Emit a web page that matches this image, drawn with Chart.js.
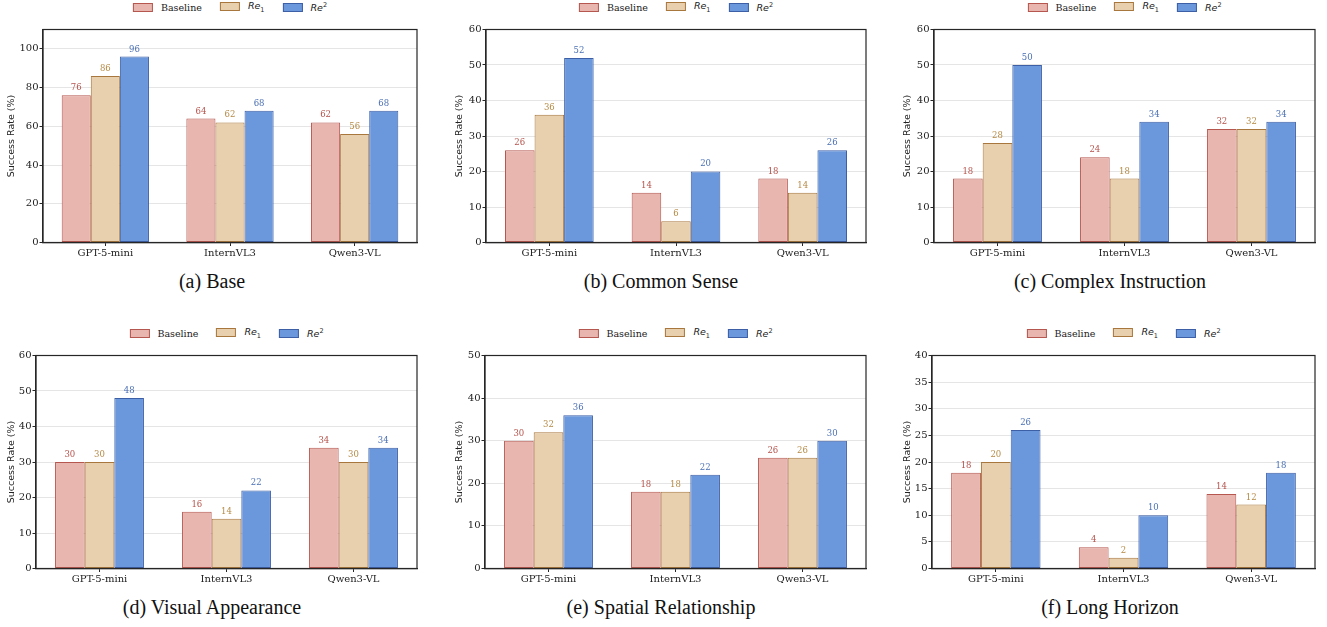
<!DOCTYPE html>
<html>
<head>
<meta charset="utf-8">
<script src="https://cdn.jsdelivr.net/npm/chart.js@4.4.1/dist/chart.umd.min.js"></script>
<style>
  body { margin: 0; background: #fff; width: 1327px; height: 627px; position: relative; overflow: hidden; }
  canvas.panel { position: absolute; }
  .legend { position: absolute; transform: translateX(-50%); display: flex; align-items: center; white-space: nowrap;
            font-family: 'DejaVu Serif', serif; font-size: 9.5px; color: #222; height: 14px; }
  .legend .item { display: flex; align-items: center; margin: 0 9px; }
  .legend .sw { width: 18px; height: 7px; margin-right: 8px; }
  .legend .m { font-family: 'DejaVu Sans', sans-serif; font-style: italic; font-size: 9.5px; }
  .legend sub, .legend sup { font-style: normal; font-size: 6.5px; }
  .caption { position: absolute; transform: translateX(-50%); font-family: 'Liberation Serif', 'Times New Roman', serif;
             font-size: 20px; color: #111; white-space: nowrap; }
</style>
</head>
<body>
<script>
'use strict';

// data
const categories = ['GPT-5-mini', 'InternVL3', 'Qwen3-VL'];
const panelTitles = ['(a) Base', '(b) Common Sense', '(c) Complex Instruction',
  '(d) Visual Appearance', '(e) Spatial Relationship', '(f) Long Horizon'];

const baselineSeries = [[76, 64, 62], [26, 14, 18], [18, 24, 32], [30, 16, 34], [30, 18, 26], [18, 4, 14]];
const re1Series = [[86, 62, 56], [36, 6, 14], [28, 18, 32], [30, 14, 30], [32, 18, 26], [20, 2, 12]];
const re2Series = [[96, 68, 68], [52, 20, 26], [50, 34, 34], [48, 22, 34], [36, 22, 30], [26, 10, 18]];

const yMaxes = [110, 60, 60, 60, 50, 40];
const yTickLists = [
  [0, 20, 40, 60, 80, 100],
  [0, 10, 20, 30, 40, 50, 60],
  [0, 10, 20, 30, 40, 50, 60],
  [0, 10, 20, 30, 40, 50, 60],
  [0, 10, 20, 30, 40, 50],
  [0, 5, 10, 15, 20, 25, 30, 35, 40]
];

// series styles
const fills = ['#e8b6ae', '#e8cfae', '#6b97dc'];
const edges = ['#b5564f', '#a8773d', '#3d5fa6'];
const labelColors = ['#b5524b', '#b58a46', '#4a6fb3'];

// layout of each panel (page pixels)
const colLeft = [0, 448, 896];
const colCenter = [212, 661, 1110];
const rowTop = [0, 326];
const areaLeft = [43, 486, 934, 36, 485, 932];
const areaRight = [417, 866, 1315, 417, 866, 1315];
const canvasW = 427;
const canvasH = 250;

// draws the value above each bar
const valueLabels = {
  id: 'valueLabels',
  afterDatasetsDraw(chart) {
    const ctx = chart.ctx;
    ctx.save();
    ctx.font = '8.5px "DejaVu Serif", serif';
    ctx.textAlign = 'center';
    ctx.textBaseline = 'bottom';
    chart.data.datasets.forEach((ds, i) => {
      const meta = chart.getDatasetMeta(i);
      ctx.fillStyle = labelColors[i];
      meta.data.forEach((bar, j) => {
        ctx.fillText(String(ds.data[j]), bar.x, bar.y - 3);
      });
    });
    ctx.restore();
  }
};

// full box around the plot area
const frame = {
  id: 'frame',
  afterDraw(chart) {
    const a = chart.chartArea;
    const ctx = chart.ctx;
    ctx.save();
    ctx.strokeStyle = '#262626';
    ctx.lineWidth = 1.2;
    ctx.strokeRect(a.left, a.top, a.right - a.left, a.bottom - a.top);
    ctx.restore();
  }
};

function legendHtml() {
  const names = ['Baseline', '<span class="m">Re<sub>1</sub></span>', '<span class="m">Re<sup>2</sup></span>'];
  return names.map((n, i) =>
    `<div class="item"><div class="sw" style="background:${fills[i]};border:1px solid ${edges[i]}"></div>${n}</div>`
  ).join('');
}

function makePanel(p) {
  const col = p % 3;
  const row = Math.floor(p / 3);
  const top = rowTop[row];
  const cLeft = colLeft[col];
  const cTop = top + 18;

  const canvas = document.createElement('canvas');
  canvas.className = 'panel';
  canvas.style.left = cLeft + 'px';
  canvas.style.top = cTop + 'px';
  canvas.style.width = canvasW + 'px';
  canvas.style.height = canvasH + 'px';
  document.body.appendChild(canvas);

  const legend = document.createElement('div');
  legend.className = 'legend';
  legend.style.left = ((areaLeft[p] + areaRight[p]) / 2) + 'px';
  legend.style.top = (top + 0) + 'px';
  legend.innerHTML = legendHtml();
  document.body.appendChild(legend);

  const cap = document.createElement('div');
  cap.className = 'caption';
  cap.style.left = colCenter[col] + 'px';
  cap.style.top = (top + 270) + 'px';
  cap.textContent = panelTitles[p];
  document.body.appendChild(cap);

  const series = [baselineSeries[p], re1Series[p], re2Series[p]];
  const yWidth = areaLeft[p] - cLeft;
  const padRight = canvasW - (areaRight[p] - cLeft);
  const areaTop = 29.5;
  const xHeight = cTop + canvasH - (top + 242.5);

  new Chart(canvas, {
    type: 'bar',
    data: {
      labels: categories,
      datasets: series.map((vals, i) => ({
        label: ['Baseline', 'Re1', 'Re2'][i],
        data: vals,
        backgroundColor: fills[i],
        borderColor: edges[i],
        borderWidth: 1,
        borderSkipped: false,
        categoryPercentage: 0.7,
        barPercentage: 1.0
      }))
    },
    options: {
      responsive: false,
      animation: false,
      devicePixelRatio: 1,
      layout: { padding: { left: 0, right: padRight, top: top + areaTop - cTop, bottom: 0 } },
      plugins: { legend: { display: false }, tooltip: { enabled: false } },
      scales: {
        x: {
          offset: true,
          grid: { display: true, offset: false, drawOnChartArea: false, drawTicks: true, tickLength: 3.5, color: '#262626', lineWidth: 1 },
          border: { display: true, color: '#262626', width: 1.2 },
          ticks: { color: '#222', padding: 1.5, font: { family: 'DejaVu Serif', size: 10 }, maxRotation: 0 },
          afterFit(scale) { scale.height = xHeight; }
        },
        y: {
          min: 0,
          max: yMaxes[p],
          grid: { color: '#e5e5e5', lineWidth: 1, drawTicks: true, tickLength: 3.5, tickColor: '#262626' },
          border: { display: true, color: '#262626', width: 1.2 },
          ticks: { color: '#222', padding: 1, font: { family: 'DejaVu Serif', size: 10 } },
          afterBuildTicks(scale) { scale.ticks = yTickLists[p].map(v => ({ value: v })); },
          title: {
            display: true,
            text: 'Success Rate (%)',
            color: '#222',
            padding: { top: 6, bottom: 0 },
            font: { family: 'DejaVu Sans', size: 9.5 }
          },
          afterFit(scale) { scale.width = yWidth; }
        }
      }
    },
    plugins: [valueLabels, frame]
  });
}

for (let p = 0; p < 6; p++) {
  makePanel(p);
}
</script>
</body>
</html>
